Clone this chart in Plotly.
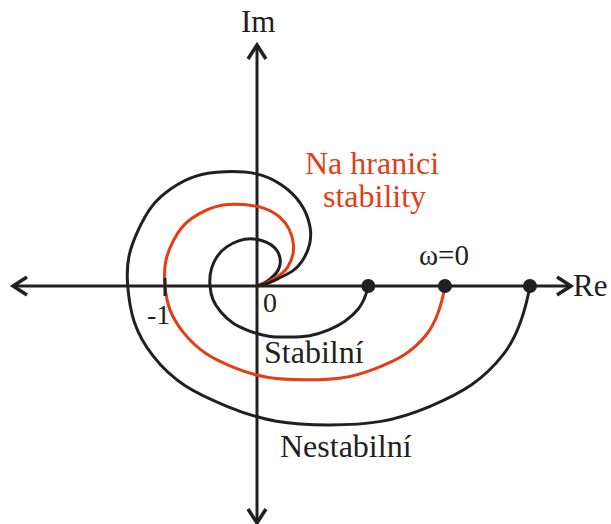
import plotly.graph_objects as go

# --- Data (complex plane units; -1 is the critical point) ---
stable_re = [1.210, 1.100, 0.780, 0.350, -0.080, -0.395, -0.511, -0.440, -0.200, 0.050, 0.220, 0.245, 0.140, 0.0]
stable_im = [0.0, -0.250, -0.478, -0.555, -0.490, -0.280, 0.0, 0.310, 0.490, 0.495, 0.380, 0.210, 0.075, 0.0]

border_re = [2.043, 1.840, 1.280, 0.520, -0.240, -0.796, -1.0, -0.905, -0.600, -0.150, 0.250, 0.395, 0.330, 0.150, 0.0]
border_im = [0.0, -0.530, -0.900, -1.020, -0.890, -0.510, 0.0, 0.500, 0.800, 0.885, 0.745, 0.455, 0.200, 0.060, 0.0]

unstable_re = [2.967, 2.680, 1.875, 0.780, -0.320, -1.130, -1.405, -1.290, -0.927, -0.348, 0.268, 0.576, 0.486, 0.220, 0.0]
unstable_im = [0.0, -0.740, -1.310, -1.510, -1.310, -0.760, 0.0, 0.609, 1.062, 1.242, 1.098, 0.645, 0.264, 0.075, 0.0]

critical_point = -1
axis_re = [-2.652, 3.413]
axis_im = [-2.576, 2.620]

BLACK = "#231f20"
RED = "#e63c14"
FONT = "Liberation Serif, Times New Roman, serif"

# pixel geometry of the canvas
W, H = 611, 524
OX, OY, U = 257, 286, 92.0


def px(n):
    return n / U


fig = go.Figure()

for re_, im_, col in [(stable_re, stable_im, BLACK),
                      (border_re, border_im, RED),
                      (unstable_re, unstable_im, BLACK)]:
    fig.add_trace(go.Scatter(x=re_, y=im_, mode="lines",
                             line=dict(color=col, width=3, shape="spline", smoothing=1.2),
                             hoverinfo="skip", showlegend=False))

# omega = 0 dots
fig.add_trace(go.Scatter(x=[stable_re[0], border_re[0], unstable_re[0]],
                         y=[stable_im[0], border_im[0], unstable_im[0]],
                         mode="markers", marker=dict(color=BLACK, size=14),
                         hoverinfo="skip", showlegend=False))

line = dict(color=BLACK, width=3)
shapes = []
# axes
shapes.append(dict(type="line", x0=axis_re[0], x1=axis_re[1], y0=0, y1=0, line=line, layer="below"))
shapes.append(dict(type="line", x0=0, x1=0, y0=axis_im[0], y1=axis_im[1], line=line, layer="below"))
# arrow heads (open chevrons)
a_len, a_half = px(14), px(9)
for tip, sgn in [(axis_re[0], 1), (axis_re[1], -1)]:
    shapes.append(dict(type="path",
                       path=f"M {tip + sgn*a_len} {a_half} L {tip} 0 L {tip + sgn*a_len} {-a_half}",
                       line=dict(color=BLACK, width=3.5)))
for tip, sgn in [(axis_im[0], 1), (axis_im[1], -1)]:
    shapes.append(dict(type="path",
                       path=f"M {-a_half} {tip + sgn*a_len} L 0 {tip} L {a_half} {tip + sgn*a_len}",
                       line=dict(color=BLACK, width=3.5)))
# -1 tick
shapes.append(dict(type="line", x0=critical_point, x1=critical_point, y0=px(-10), y1=px(8),
                   line=dict(color=BLACK, width=3)))

fig.update_layout(shapes=shapes)


def label(text, xp, yp, size=32, color=BLACK):
    fig.add_annotation(x=(xp - OX) / U, y=(OY - yp) / U, text=text, showarrow=False,
                       xanchor="center", yanchor="middle",
                       font=dict(family=FONT, size=size, color=color))


label("Im", 258, 21, size=31)
label("Re", 590, 285, size=31)
label("0", 270, 302, size=28)
label("-1", 158, 314, size=28)
label("ω=0", 444, 255, size=29)
label("Stabilní", 314, 352)
label("Nestabilní", 346, 446)
label("Na hranici", 372, 163, color=RED)
label("stability", 374, 196, color=RED)

fig.update_layout(
    width=W, height=H,
    margin=dict(l=0, r=0, t=0, b=0),
    paper_bgcolor="white", plot_bgcolor="white",
    xaxis=dict(range=[(0 - OX) / U, (W - OX) / U], visible=False, fixedrange=True),
    yaxis=dict(range=[(OY - H) / U, OY / U], visible=False, fixedrange=True),
    showlegend=False,
)

fig.write_html("out.html", config={"displayModeBar": False, "staticPlot": True},
               post_script="document.body.style.margin='0';")
